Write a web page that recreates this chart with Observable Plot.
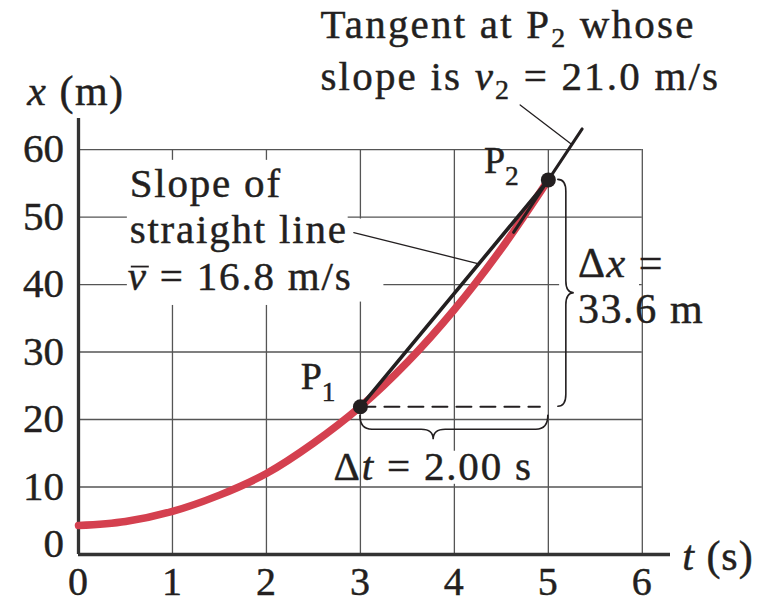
<!DOCTYPE html>
<html>
<head>
<meta charset="utf-8">
<script src="https://cdn.jsdelivr.net/npm/d3@7"></script>
<script src="https://cdn.jsdelivr.net/npm/@observablehq/plot@0.6"></script>
<style>
  html, body { margin: 0; padding: 0; background: #fff; }
  #chart svg { display: block; }
</style>
</head>
<body>
<div id="chart"></div>
<script>
// ---- Data -------------------------------------------------------------
// Tick values on the two axes
const timeTicks = [0, 1, 2, 3, 4, 5, 6];          // t (s)
const positionTicks = [0, 10, 20, 30, 40, 50, 60]; // x (m)

// Position–time curve x(t)
const curveTime = [0, 0.5, 1, 1.5, 2, 2.5, 3, 3.5, 4, 4.5, 5];
const curvePosition = [4.3, 4.9, 6.4, 8.8, 12.0, 16.5, 21.9, 28.5, 36.3, 45.3, 55.5];

// The two marked points
const pointNames = ["P1", "P2"];
const pointTime = [3, 5];
const pointPosition = [21.9, 55.5];

// Quantities stated on the chart
const deltaT = 2.00;          // s
const deltaX = 33.6;          // m
const averageVelocity = 16.8; // m/s (slope of the chord P1P2)
const tangentVelocity = 21.0; // m/s (slope of the tangent at P2)

// ---- Derived tables ---------------------------------------------------
const curve = curveTime.map((t, i) => ({t, x: curvePosition[i]}));
const points = pointNames.map((name, i) => ({name, t: pointTime[i], x: pointPosition[i]}));
const [P1, P2] = points;
const chord = [P1, {t: P1.t + deltaT, x: P1.x + deltaX}];
const tangentSpan = [4.63, 5.36];
const tangent = tangentSpan.map(t => ({t, x: P2.x + tangentVelocity * (t - P2.t)}));
const dashed = [{t: P1.t, x: P1.x}, {t: 4.91, x: P1.x}];

// leader lines from labels to the lines they describe
const chordAt = t => P1.x + averageVelocity * (t - P1.t);
const tangentAt = t => P2.x + tangentVelocity * (t - P2.t);
const leaders = [
  [{t: 2.93, x: 47.7}, {t: 4.26, x: chordAt(4.26)}],
  [{t: 4.70, x: 66.6}, {t: 5.25, x: tangentAt(5.25)}]
];

// white boxes behind labels so grid lines do not run through them
const knockouts = [
  {t1: 0.52, t2: 2.87, x1: 36.9, x2: 58.4},
  {t1: 2.87, t2: 3.25, x1: 37.4, x2: 49.7},
  {t1: 3.45, t2: 4.85, x1: 10.4, x2: 15.3},
  {t1: 5.12, t2: 5.97, x1: 39.0, x2: 41.0}
];

const tMax = 6.3, xMax = 64.6;
const ink = "#231f20";
const gridInk = "#555";
const red = "#d4404f";
const serif = "'Liberation Serif', 'Times New Roman', serif";

const chart = Plot.plot({
  width: 763,
  height: 604,
  marginLeft: 78,
  marginRight: 93,
  marginTop: 118,
  marginBottom: 50,
  x: {domain: [0, tMax], axis: null},
  y: {domain: [0, xMax], axis: null},
  style: {background: "#fff", fontFamily: serif},
  marks: [
    // grid
    Plot.ruleX(timeTicks.slice(1), {y1: 0, y2: 60, stroke: gridInk, strokeWidth: 1.3}),
    Plot.ruleY(positionTicks.slice(1), {x1: 0, x2: 6, stroke: gridInk, strokeWidth: 1.3}),
    Plot.rect(knockouts, {x1: "t1", x2: "t2", y1: "x1", y2: "x2", fill: "#fff"}),
    // axes
    Plot.ruleY([0], {x1: 0, x2: tMax, stroke: "#333", strokeWidth: 3.3}),
    Plot.ruleX([0], {y1: 0, y2: xMax, stroke: "#333", strokeWidth: 3.3}),
    // horizontal dashed reference from P1
    Plot.line(dashed, {x: "t", y: "x", stroke: ink, strokeWidth: 2, strokeDasharray: "15,9"}),
    // x(t) curve
    Plot.line(curve, {x: "t", y: "x", stroke: red, strokeWidth: 7.5, curve: "catmull-rom"}),
    // chord P1P2 and tangent at P2
    Plot.line(chord, {x: "t", y: "x", stroke: ink, strokeWidth: 3.6}),
    Plot.line(tangent, {x: "t", y: "x", stroke: ink, strokeWidth: 3}),
    // leaders
    ...leaders.map(l => Plot.line(l, {x: "t", y: "x", stroke: ink, strokeWidth: 1.3})),
    // points
    Plot.dot(points, {x: "t", y: "x", r: 7.5, fill: ink, stroke: "none"})
  ]
});

document.getElementById("chart").appendChild(chart);

// ---- Text and braces, placed with the plot's scales --------------------
const sx = chart.scale("x"), sy = chart.scale("y");
const X = d3.scaleLinear(sx.domain, sx.range);
const Y = d3.scaleLinear(sy.domain, sy.range);
const svg = d3.select(chart);
const layer = svg.append("g")
  .attr("fill", ink)
  .attr("stroke", ink)
  .attr("stroke-width", 0.45)
  .style("font-family", serif);

// lines: array of lines, each an array of parts {s, i (italic), sub (subscript)}
function richText({t, x, dx = 0, dy = 0, size, anchor = "start", spacing = 0, lineHeight = 0,
                   subScale = 0.72, subShift = 0.3, lines}) {
  const x0 = X(t) + dx;
  const text = layer.append("text")
    .attr("x", x0)
    .attr("y", Y(x) + dy)
    .attr("font-size", size)
    .attr("text-anchor", anchor)
    .attr("letter-spacing", spacing);
  let shifted = 0;
  lines.forEach((parts, li) => {
    parts.forEach((p, pi) => {
      const ts = text.append("tspan").text(p.s);
      let d = 0;
      if (li > 0 && pi === 0) {
        ts.attr("x", x0);
        d += lineHeight;
      }
      if (p.i) ts.attr("font-style", "italic");
      if (p.sub) {
        const s = size * subShift;
        ts.attr("font-size", size * subScale);
        d += s - shifted;
        shifted = s;
      } else {
        d -= shifted;
        shifted = 0;
      }
      if (d) ts.attr("dy", d);
    });
  });
  return text;
}

// axis tick labels
for (const t of timeTicks) {
  layer.append("text").attr("x", X(t)).attr("y", Y(0) + 41)
    .attr("font-size", 40).attr("text-anchor", "middle").text(t);
}
for (const v of positionTicks) {
  layer.append("text").attr("x", X(0) - 14).attr("y", Y(v) + 13 - (v === 0 ? 10 : 0))
    .attr("font-size", 41).attr("text-anchor", "end").text(v);
}

// axis titles
richText({t: -0.54, x: 66.6, size: 42, spacing: 1.5, lines: [[{s: "x", i: true}, {s: " (m)"}]]});
richText({t: 6.43, x: -2.4, size: 42, spacing: 1, lines: [[{s: "t", i: true}, {s: " (s)"}]]});

// tangent label
richText({t: 2.58, x: 76.5, size: 41, spacing: 2.2, lineHeight: 52, subScale: 0.68, subShift: 0.22,
  lines: [
    [{s: "Tangent at P"}, {s: "2", sub: true}, {s: " whose"}],
    [{s: "slope is "}, {s: "v", i: true}, {s: "2", sub: true}, {s: ` = ${tangentVelocity.toFixed(1)} m/s`}]
  ]});

// chord label
const chordLabel = richText({t: 0.55, x: 52.9, size: 41, spacing: 1.8, lineHeight: 46.3,
  lines: [
    [{s: "Slope of"}],
    [{s: "straight line"}],
    [{s: "v", i: true}, {s: ` = ${averageVelocity.toFixed(1)} m/s`}]
  ]});
{
  // bar over the v of the average velocity
  const vSpan = chordLabel.selectAll("tspan").nodes()[2];
  vSpan.setAttribute("x", X(0.53));
  const node = chordLabel.node();
  const idx = "Slope of".length + "straight line".length;
  const a = node.getStartPositionOfChar(idx), b = node.getEndPositionOfChar(idx);
  const yb = a.y - 23;
  layer.append("line").attr("x1", a.x + 3).attr("x2", b.x + 1)
    .attr("y1", yb).attr("y2", yb).attr("stroke", ink).attr("stroke-width", 1.8);
}

// point labels
richText({t: 4.32, x: 56.4, size: 38, lines: [[{s: "P"}, {s: "2", sub: true}]]});
richText({t: 2.37, x: 24.4, size: 38, lines: [[{s: "P"}, {s: "1", sub: true}]]});

// Δx label
richText({t: 5.32, x: 41.0, size: 42, spacing: 1.6, lineHeight: 46,
  lines: [
    [{s: "Δ"}, {s: "x", i: true}, {s: " ="}],
    [{s: `${deltaX.toFixed(1)} m`}]
  ]});

// Δt label
const dtLabel = richText({t: 2.72, x: 11.0, size: 41, spacing: 1.8,
  lines: [[{s: "Δ"}, {s: "t", i: true}, {s: ` = ${deltaT.toFixed(2)} s`}]]});
const dtBox = dtLabel.node().getBBox();

// braces
const braceG = svg.append("g").attr("fill", "none").attr("stroke", ink)
  .attr("stroke-width", 1.6).attr("stroke-linecap", "round");

// horizontal brace under the dashed line, tip pointing down
{
  const xa = X(P1.t), xb = X(P1.t + deltaT), xm = dtBox.x + dtBox.width / 2;
  const y0 = Y(P1.x) + 9, yb = y0 + 14, yt = yb + 10, r = 12;
  braceG.append("path").attr("d",
    `M${xa},${y0} Q${xa},${yb} ${xa + r},${yb} H${xm - r} Q${xm},${yb} ${xm},${yt}` +
    ` Q${xm},${yb} ${xm + r},${yb} H${xb - r} Q${xb},${yb} ${xb},${y0}`);
}
// vertical brace right of P2, tip pointing right
{
  const ya = Y(P2.x), yb = Y(P1.x), ym = (ya + yb) / 2;
  const x0 = X(P2.t) + 10, xbar = x0 + 8, xt = xbar + 8, r = 12;
  braceG.append("path").attr("d",
    `M${x0},${ya} Q${xbar},${ya} ${xbar},${ya + r} V${ym - r} Q${xbar},${ym} ${xt},${ym}` +
    ` Q${xbar},${ym} ${xbar},${ym + r} V${yb - r} Q${xbar},${yb} ${x0},${yb}`);
}
</script>
</body>
</html>
